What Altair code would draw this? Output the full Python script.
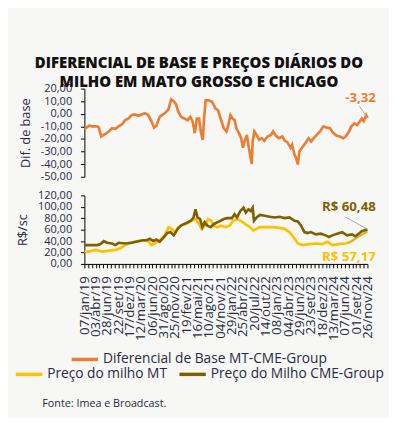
import json
import altair as alt
import pandas as pd

# ---------------- text ----------------
TITLE_LINES = ["DIFERENCIAL DE BASE E PREÇOS DIÁRIOS DO", "MILHO EM MATO GROSSO E CHICAGO"]
SOURCE = "Fonte: Imea e Broadcast."
Y1_TITLE = "Dif. de base"
Y2_TITLE = "R$/sc"

BASE_NAME = "Diferencial de Base MT-CME-Group"
MT_NAME = "Preço do milho MT"
CME_NAME = "Preço do Milho CME-Group"

# x tick labels (one every 86 days from 07/jan/19)
TICK_LABELS = ["07/jan/19", "03/abr/19", "28/jun/19", "22/set/19", "17/dez/19", "12/mar/20",
               "06/jun/20", "31/ago/20", "25/nov/20", "19/fev/21", "16/mai/21", "10/ago/21",
               "04/nov/21", "29/jan/22", "25/abr/22", "20/jul/22", "14/out/22", "08/jan/23",
               "04/abr/23", "29/jun/23", "23/set/23", "18/dez/23", "13/mar/24", "07/jun/24",
               "01/set/24", "26/nov/24"]
TICK_STEP = 86
MINOR_PER_STEP = 3

Y1_TICKS = [-50, -40, -30, -20, -10, 0, 10, 20]
Y2_TICKS = [0, 20, 40, 60, 80, 100, 120]

# ---------------- data (days since 07/jan/19) ----------------
BASE_DAYS = [0, 10, 35, 60, 97, 110, 127, 160, 185, 210, 235, 260, 285, 310, 335, 360, 385, 410,
             434, 459, 484, 509, 529, 547, 572, 597, 622, 639, 659, 679, 697, 714, 734, 759, 784,
             804, 822, 839, 854, 871, 884, 899, 909, 921, 946, 971, 996, 1014, 1034, 1059, 1079,
             1091, 1109, 1124, 1141, 1154, 1174, 1191, 1204, 1216, 1234, 1249, 1259, 1271, 1278,
             1291, 1308, 1328, 1348, 1366, 1391, 1416, 1433, 1453, 1478, 1503, 1523, 1541, 1566,
             1578, 1596, 1608, 1621, 1633, 1653, 1678, 1703, 1723, 1740, 1765, 1790, 1815, 1840,
             1865, 1890, 1915, 1940, 1965, 1983, 2003, 2028, 2052, 2072, 2090, 2107, 2122, 2140,
             2150]
BASE_VALUES = [-11.5, -11.5, -9.4, -10.0, -10.0, -11.0, -18.0, -16.0, -14.0, -11.5, -12.0, -10.0,
               -8.4, -5.0, -3.7, -1.0, -0.5, -1.6, -0.5, 0.5, -1.0, -6.0, -11.0, -9.4, -2.4, -0.5,
               1.5, 3.7, 11.5, 10.0, 7.3, 1.5, -2.4, -3.7, -5.0, -2.4, -6.0, -15.4, -3.7, -3.7,
               -14.0, -20.7, -3.7, 10.7, 10.7, 9.4, 4.2, 2.9, -3.7, -11.5, -14.0,
               -10.0, -1.0, -3.7, -5.0, -11.5, -15.4, -19.4, -27.0, -22.0, -16.8, -27.0, -32.5,
               -39.8, -22.0, -14.0, -16.8, -20.7, -19.4, -21.5, -18.0, -16.8, -14.0, -17.3, -19.4,
               -18.0, -21.5, -22.5, -27.0, -24.6, -32.5, -35.0, -40.3, -29.8, -27.0, -23.3, -19.4,
               -22.0, -19.4, -16.8, -14.0, -10.0, -11.0, -11.5, -15.4, -17.3, -18.0, -19.4, -18.0,
               -15.4, -10.0, -7.6, -8.9, -6.3, -3.7, -5.8, -1.0, -3.32]

CME_DAYS = [0, 97, 122, 147, 172, 210, 235, 260, 310, 360, 410, 447, 472, 497, 522, 547, 572, 604,
            629, 654, 679, 709, 734, 759, 784, 809, 829, 844, 859, 879, 896, 914, 934, 959, 984,
            1009, 1034, 1059, 1084, 1121, 1141, 1159, 1184, 1209, 1226, 1246, 1263, 1278, 1288,
            1308, 1333, 1371, 1408, 1446, 1483, 1521, 1558, 1596, 1621, 1646, 1671, 1695, 1720,
            1758, 1795, 1833, 1858, 1883, 1920, 1958, 1995, 2033, 2058, 2083, 2108, 2150]
CME_VALUES = [33.0, 33.0, 34.7, 39.8, 37.0, 35.8, 33.0, 37.0, 35.8, 37.0, 39.8, 41.5, 41.5, 44.0,
              40.0, 42.7, 38.7, 47.0, 54.0, 55.7, 50.0, 61.4, 67.0, 70.0, 72.8, 75.6, 81.3, 95.6,
              81.3, 78.5, 64.3, 72.8, 67.0, 64.3, 70.0, 72.8, 75.6, 78.5, 80.2, 80.2, 87.0, 81.3,
              92.7, 98.4, 90.0, 95.6, 92.7, 98.4, 75.6, 81.3, 85.9, 84.2, 82.5, 81.3, 82.5, 80.2,
              81.3, 75.6, 74.5, 67.0, 55.7, 54.0, 55.7, 51.8, 52.9, 50.0, 47.2, 50.0, 52.9, 55.7,
              50.0, 51.8, 48.4, 52.9, 57.5, 60.48]

MT_DAYS = [0, 35, 85, 135, 185, 235, 272, 310, 347, 397, 447, 484, 509, 534, 572, 609, 639, 664,
           689, 714, 747, 784, 822, 846, 871, 889, 914, 939, 964, 984, 1009, 1039, 1071, 1104,
           1129, 1159, 1184, 1221, 1258, 1283, 1308, 1333, 1383, 1433, 1483, 1521, 1558, 1596,
           1621, 1658, 1708, 1758, 1808, 1845, 1883, 1933, 1983, 2020, 2058, 2095, 2150]
MT_VALUES = [21.6, 21.6, 24.5, 21.6, 23.3, 24.5, 27.3, 33.0, 37.0, 39.8, 41.5, 39.8, 33.0, 35.8,
             41.5, 50.0, 64.3, 61.4, 55.7, 64.3, 68.8, 71.0, 76.8, 78.5, 70.0, 61.4, 67.0, 78.5,
             75.6, 67.0, 64.3, 67.0, 64.3, 67.0, 75.6, 78.5, 75.6, 70.0, 64.3, 58.6, 61.4, 64.3,
             64.3, 64.3, 63.1, 61.4, 55.7, 44.4, 35.8, 33.0, 34.7, 35.8, 34.7, 38.7, 33.0, 34.7,
             35.8, 38.7, 44.4, 50.0, 57.17]

# annotations: label text, label position (day, value), leader start (day, value) -> last point
ANNOT_TOP_TEXT = ["-3,32"]
ANNOT_TOP_POS = [(2097, 12.5)]
ANNOT_TOP_LEADER = [(2090, 6.0)]
ANNOT_BOT_TEXT = ["R$ 60,48", "R$ 57,17"]
ANNOT_BOT_POS = [(2009, 99.0), (2009, 12.0)]
ANNOT_BOT_LEADER = [(1985, 82.0), (2005, 36.0)]

ORANGE = "#ED7D31"
YELLOW = "#FFC000"
OLIVE = "#7F6000"
TEXT = "#262B40"
BG = "#F7F7F5"
FONT = "Open Sans"

X_MAX = TICK_STEP * (len(TICK_LABELS) - 1)

# ---------------- frames ----------------
base_df = pd.DataFrame({"dia": BASE_DAYS, "valor": BASE_VALUES, "serie": BASE_NAME})
price_df = pd.concat([
    pd.DataFrame({"dia": MT_DAYS, "valor": MT_VALUES, "serie": MT_NAME, "ordem": 0}),
    pd.DataFrame({"dia": CME_DAYS, "valor": CME_VALUES, "serie": CME_NAME, "ordem": 1}),
])

top_ann = pd.DataFrame({
    "txt": ANNOT_TOP_TEXT,
    "dia": [p[0] for p in ANNOT_TOP_POS], "valor": [p[1] for p in ANNOT_TOP_POS],
    "d1": [p[0] for p in ANNOT_TOP_LEADER], "v1": [p[1] for p in ANNOT_TOP_LEADER],
    "d2": [BASE_DAYS[-1]], "v2": [BASE_VALUES[-1]],
    "cor": [ORANGE],
})
bot_ann = pd.DataFrame({
    "txt": ANNOT_BOT_TEXT,
    "dia": [p[0] for p in ANNOT_BOT_POS], "valor": [p[1] for p in ANNOT_BOT_POS],
    "d1": [p[0] for p in ANNOT_BOT_LEADER], "v1": [p[1] for p in ANNOT_BOT_LEADER],
    "d2": [CME_DAYS[-1], MT_DAYS[-1]], "v2": [CME_VALUES[-1], MT_VALUES[-1]],
    "cor": [OLIVE, YELLOW],
})

W = 289
H1 = 90
H2 = 70

num_expr = "replace(replace(format(datum.value, '.2f'), '.', ','), '\u2212', '-')"
xlab_expr = (f"abs(datum.value / {TICK_STEP} - round(datum.value / {TICK_STEP})) < 0.01 ? "
             f"{json.dumps(TICK_LABELS)}[round(datum.value / {TICK_STEP})] : ''")
minor_vals = [i * TICK_STEP / MINOR_PER_STEP for i in range((len(TICK_LABELS) - 1) * MINOR_PER_STEP + 1)]

x_scale = alt.Scale(domain=[0, X_MAX], nice=False, zero=False)


def y_axis(title, ticks):
    return alt.Axis(values=ticks, title=title, labelExpr=num_expr, grid=False,
                    domainColor="#000000", tickColor="#000000", tickSize=4,
                    labelPadding=9, labelFontSize=11.2, labelColor=TEXT, labelFont=FONT,
                    titleFontSize=13, titleFontWeight="normal", titleColor=TEXT,
                    titleFont=FONT, titlePadding=8, labelOverlap=False)


X_AXIS_BOTTOM = alt.Axis(values=minor_vals, labelExpr=xlab_expr, title=None, labelAngle=270,
                         labelAlign="right", labelBaseline="middle", labelFontSize=13.5,
                         labelFont=FONT, labelColor=TEXT, labelOverlap=False, labelFlush=False,
                         labelBound=False, tickSize=4, tickColor="#000000",
                         domainColor="#000000", grid=False, labelPadding=8)
Y_AXIS_TOP = y_axis(Y1_TITLE, Y1_TICKS)
Y_AXIS_BOTTOM = y_axis(Y2_TITLE, Y2_TICKS)


def annotations(df, xaxis, yaxis):
    rule = alt.Chart(df).mark_rule(color="#A6A6A6", strokeWidth=1).encode(
        x=alt.X("d1:Q", axis=xaxis, title=None), y=alt.Y("v1:Q", axis=yaxis),
        x2="d2:Q", y2="v2:Q")
    text = alt.Chart(df).mark_text(fontWeight="bold", fontSize=13.5, font=FONT).encode(
        x=alt.X("dia:Q", axis=xaxis), y=alt.Y("valor:Q", axis=yaxis), text="txt:N",
        color=alt.Color("cor:N", scale=None))
    return rule, text


LEG = dict(title=None, orient="none", symbolType="stroke", symbolSize=729, symbolStrokeWidth=3.5,
           labelFontSize=14, labelFont=FONT, labelColor=TEXT, labelOffset=3, labelLimit=500)

# top panel
top_line = alt.Chart(base_df).mark_line(strokeWidth=2.7).encode(
    x=alt.X("dia:Q", scale=x_scale, axis=None),
    y=alt.Y("valor:Q", scale=alt.Scale(domain=[-50, 20], nice=False), axis=Y_AXIS_TOP),
    color=alt.Color("serie:N", scale=alt.Scale(domain=[BASE_NAME], range=[ORANGE]),
                    legend=alt.Legend(legendX=-15, legendY=261, **LEG)),
)
top = alt.layer(top_line, *annotations(top_ann, None, Y_AXIS_TOP)).properties(width=W, height=H1)

# bottom panel
bot_line = alt.Chart(price_df).mark_line(strokeWidth=2.7).encode(
    x=alt.X("dia:Q", scale=x_scale, axis=X_AXIS_BOTTOM),
    y=alt.Y("valor:Q", scale=alt.Scale(domain=[0, 120], nice=False), axis=Y_AXIS_BOTTOM),
    color=alt.Color("serie:N", scale=alt.Scale(domain=[MT_NAME, CME_NAME], range=[YELLOW, OLIVE]),
                    legend=alt.Legend(legendX=-72, legendY=167, direction="horizontal",
                                      columnPadding=5, **LEG)),
    order="ordem:Q",
)
bottom = alt.layer(bot_line, *annotations(bot_ann, X_AXIS_BOTTOM, Y_AXIS_BOTTOM)).properties(
    width=W, height=H2,
    title=alt.TitleParams(SOURCE, orient="bottom", anchor="start", fontSize=11, fontWeight="normal",
                          font=FONT, color=TEXT, offset=17, dx=29),
)

chart = alt.vconcat(top, bottom, spacing=19, bounds="flush").resolve_scale(color="independent").properties(
    title=alt.TitleParams(TITLE_LINES, anchor="middle", fontSize=15.2, fontWeight=800, font=FONT,
                          color="#111111", lineHeight=20, offset=-8),
    background=BG,
    padding={"left": 6, "top": 44, "right": 5, "bottom": 5},
).configure_view(stroke=None)

chart.save("out.html", embed_options={"renderer": "svg", "actions": False})
